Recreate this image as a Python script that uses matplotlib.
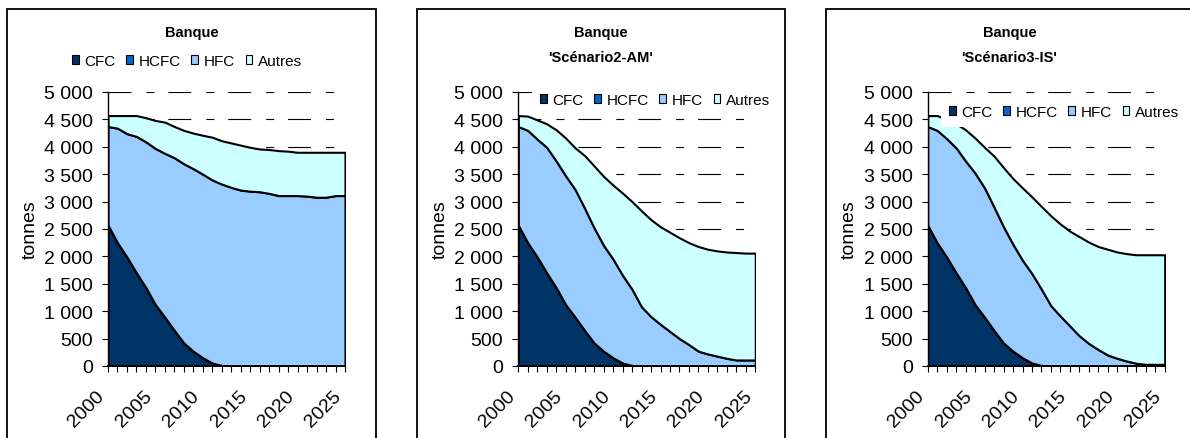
import matplotlib.pyplot as plt
from matplotlib.patches import Patch, Rectangle
from matplotlib.ticker import FuncFormatter
import matplotlib.transforms as mtransforms

plt.rcParams['font.family'] = ['Liberation Sans', 'DejaVu Sans']
plt.rcParams['lines.scale_dashes'] = False

years = list(range(2000, 2026))
series_names = ["CFC", "HCFC", "HFC", "Autres"]
colors = ["#003366", "#0066CC", "#99CCFF", "#CCFFFF"]

# CFC and HCFC are the same in the three scenarios
cfc = [2570, 2250, 1990, 1700, 1430, 1120, 890, 650, 420, 270, 150, 55, 10,
       0, 0, 0, 0, 0, 0, 0, 0, 0, 0, 0, 0, 0]
hcfc = [0, 0, 0, 0, 0, 0, 0, 0, 0, 0, 0, 0, 0,
        0, 0, 0, 0, 0, 0, 0, 0, 0, 0, 0, 0, 0]

# Banque (reference)
hfc_ref = [1800, 2090, 2250, 2490, 2660, 2850, 2990, 3150, 3270, 3330, 3350, 3340, 3310,
           3260, 3210, 3190, 3180, 3150, 3110, 3110, 3110, 3100, 3080, 3080, 3110, 3110]
autres_ref = [200, 230, 330, 380, 440, 510, 570, 570, 610, 650, 710, 780, 790,
              810, 820, 800, 780, 800, 820, 810, 790, 800, 820, 820, 790, 790]

# Scenario 2-AM
hfc_am = [1800, 2050, 2150, 2290, 2310, 2350, 2330, 2230, 2100, 1930, 1800, 1600, 1390,
          1080, 900, 760, 630, 500, 390, 270, 220, 180, 140, 110, 110, 110]
autres_am = [200, 260, 350, 430, 570, 690, 760, 960, 1130, 1260, 1350, 1500, 1600,
             1750, 1770, 1780, 1810, 1840, 1860, 1910, 1910, 1920, 1940, 1960, 1950, 1950]

# Scenario 3-IS
hfc_is = [1800, 2050, 2160, 2280, 2310, 2400, 2360, 2250, 2120, 1950, 1780, 1630, 1390,
          1100, 910, 730, 550, 410, 300, 200, 140, 90, 50, 30, 30, 30]
autres_is = [200, 270, 350, 440, 570, 640, 740, 930, 1080, 1200, 1320, 1400, 1510,
             1640, 1680, 1730, 1810, 1850, 1880, 1930, 1940, 1960, 1980, 2000, 2000, 2000]

titles = ["Banque", "Banque\n'Scénario2-AM'", "Banque\n'Scénario3-IS'"]
panels = [(hfc_ref, autres_ref), (hfc_am, autres_am), (hfc_is, autres_is)]

W, H = 1190, 439
fig = plt.figure(figsize=(W / 100, H / 100), dpi=100)

# panel frames (px) and plot areas (px)
frames = [(7, 376), (417, 785), (826, 1193)]
areas = [108, 518.3, 927.7]
legend_pos = [(187, 62, False), (655, 101, True), (1064, 113, True)]

handles = [Patch(facecolor=c, edgecolor="black", linewidth=0.8) for c in colors]

for i in range(3):
    x0, x1 = frames[i]
    fig.patches.append(Rectangle((x0 / W, -0.1), (x1 - x0) / W, 1.1 - 10 / H,
                                 transform=fig.transFigure, fill=False,
                                 edgecolor="black", linewidth=1.3))

    ax = fig.add_axes([areas[i] / W, (H - 367) / H, 237 / W, 274 / H])
    hfc, autres = panels[i]
    ax.stackplot(years, cfc, hcfc, hfc, autres, colors=colors,
                 edgecolor="black", linewidth=1.5)

    ax.set_xlim(2000, 2025)
    ax.set_ylim(0, 5000)
    ax.set_yticks(range(0, 5001, 500))
    ax.yaxis.set_major_formatter(FuncFormatter(lambda v, p: f"{int(v):,}".replace(",", " ")))
    ax.set_xticks(years)
    ax.set_xticklabels([str(y) if y % 5 == 0 else "" for y in years],
                       rotation=45, ha="right", va="top")
    offset = mtransforms.ScaledTranslation(-8 / 100, 0, fig.dpi_scale_trans)
    for lab in ax.get_xticklabels():
        lab.set_transform(lab.get_transform() + offset)

    ax.tick_params(axis="both", labelsize=14, direction="out", length=4.3, width=0.8)
    ax.tick_params(axis="x", pad=10.5)
    ax.tick_params(axis="y", pad=6.5)
    ax.set_ylabel("tonnes", fontsize=14, labelpad=4)

    ax.spines["top"].set_visible(False)
    ax.spines["right"].set_visible(False)
    ax.spines["left"].set_linewidth(1.0)
    ax.spines["bottom"].set_linewidth(1.2)

    ax.set_axisbelow(True)
    ax.yaxis.grid(True, color="black", linewidth=0.8,
                  linestyle=(0, (16.5, 10.8, 5.8, 10)))

    cx = (x0 + x1) / 2 / W
    fig.text(cx, 1 - 33 / H, "Banque", ha="center", va="center",
             fontsize=10.5, fontweight="bold")
    if i > 0:
        fig.text(cx, 1 - 58 / H, titles[i].split("\n")[1], ha="center", va="center",
                 fontsize=10.5, fontweight="bold")

    lx, ly, framed = legend_pos[i]
    leg = ax.legend(handles, series_names, loc="center", ncol=4,
                    bbox_to_anchor=(lx / W, 1 - ly / H), bbox_transform=fig.transFigure,
                    fontsize=11, handlelength=0.45, handleheight=0.45,
                    handletextpad=0.35, columnspacing=0.7, borderpad=0.5,
                    frameon=framed, fancybox=False)
    if framed:
        leg.get_frame().set_facecolor("white")
        leg.get_frame().set_edgecolor("none")
        leg.get_frame().set_alpha(1)

fig.savefig("out.png", dpi=100)
